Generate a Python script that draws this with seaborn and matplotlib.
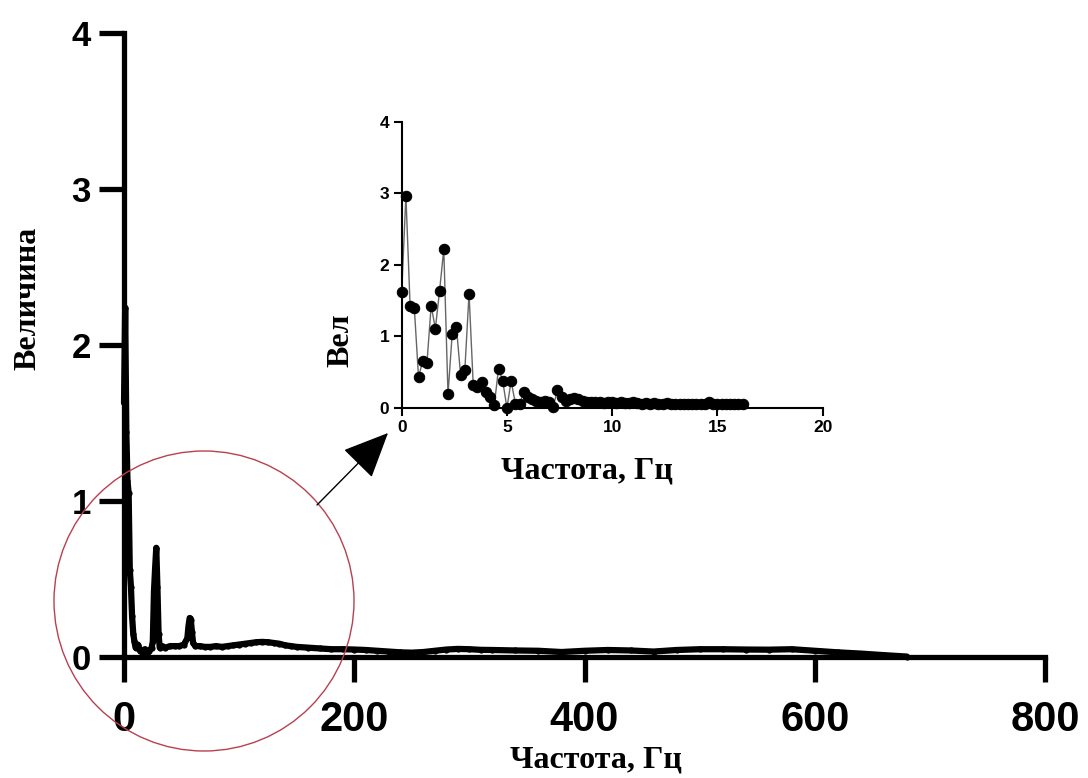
import numpy as np
import pandas as pd
import seaborn as sns
import matplotlib.pyplot as plt
from matplotlib.patches import Ellipse, FancyArrowPatch, ArrowStyle

# main spectrum (Hz, magnitude)
main_freq = [0, 1, 2, 3, 4, 5, 6, 7, 8, 9, 10, 12, 14, 16, 18, 20, 22, 24, 25, 26,
             27, 28, 29, 30, 31, 33, 36, 40, 44, 48, 52, 55, 56, 57, 58, 59, 60, 62,
             66, 70, 75, 80, 85, 90, 95, 100, 105, 110, 115, 120, 125, 130, 135, 140,
             145, 150, 160, 170, 180, 190, 200, 210, 220, 230, 240, 250, 260, 270,
             280, 290, 300, 310, 320, 340, 360, 380, 400, 420, 440, 460, 480, 500,
             520, 540, 560, 580, 600, 620, 640, 660, 680]
main_mag = [1.63, 2.24, 1.44, 1.13, 1.05, 0.56, 0.45, 0.26, 0.15, 0.10, 0.06, 0.08,
            0.04, 0.03, 0.05, 0.02, 0.04, 0.06, 0.10, 0.42, 0.57, 0.70, 0.45, 0.15,
            0.06, 0.07, 0.06, 0.07, 0.07, 0.07, 0.08, 0.12, 0.20, 0.25, 0.24, 0.16,
            0.09, 0.07, 0.07, 0.065, 0.065, 0.07, 0.065, 0.07, 0.075, 0.08, 0.085,
            0.09, 0.095, 0.097, 0.095, 0.09, 0.085, 0.075, 0.07, 0.065, 0.06, 0.055,
            0.05, 0.05, 0.048, 0.045, 0.04, 0.035, 0.03, 0.028, 0.032, 0.04, 0.048,
            0.052, 0.05, 0.046, 0.045, 0.042, 0.04, 0.032, 0.04, 0.045, 0.042, 0.035,
            0.045, 0.05, 0.05, 0.048, 0.047, 0.05, 0.04, 0.03, 0.022, 0.012, 0.003]

# zoomed low-frequency part (inset)
inset_freq = [0.0, 0.2, 0.4, 0.6, 0.8, 1.0, 1.2, 1.4, 1.6, 1.8, 2.0, 2.2, 2.4, 2.6,
              2.8, 3.0, 3.2, 3.4, 3.6, 3.8, 4.0, 4.2, 4.4, 4.6, 4.8, 5.0, 5.2, 5.4,
              5.6, 5.8, 6.0, 6.2, 6.4, 6.6, 6.8, 7.0, 7.2, 7.4, 7.6, 7.8, 8.0, 8.2,
              8.4, 8.6, 8.8, 9.0, 9.2, 9.4, 9.6, 9.8, 10.0, 10.2, 10.4, 10.6, 10.8,
              11.0, 11.2, 11.4, 11.6, 11.8, 12.0, 12.2, 12.4, 12.6, 12.8, 13.0, 13.2,
              13.4, 13.6, 13.8, 14.0, 14.2, 14.4, 14.6, 14.8, 15.0, 15.2, 15.4, 15.6,
              15.8, 16.0, 16.2]
inset_mag = [1.62, 2.97, 1.43, 1.40, 0.43, 0.66, 0.63, 1.43, 1.11, 1.64, 2.22, 0.19,
             1.04, 1.13, 0.46, 0.53, 1.60, 0.32, 0.29, 0.36, 0.22, 0.15, 0.04, 0.55,
             0.38, 0.00, 0.38, 0.06, 0.06, 0.22, 0.16, 0.12, 0.10, 0.08, 0.10, 0.09,
             0.02, 0.25, 0.15, 0.10, 0.12, 0.14, 0.12, 0.10, 0.08, 0.09, 0.08, 0.09,
             0.07, 0.08, 0.08, 0.07, 0.08, 0.07, 0.07, 0.08, 0.07, 0.06, 0.07, 0.06,
             0.07, 0.06, 0.06, 0.07, 0.06, 0.05, 0.06, 0.06, 0.05, 0.06, 0.05, 0.06,
             0.05, 0.09, 0.06, 0.05, 0.06, 0.05, 0.05, 0.06, 0.05, 0.05]

sns.set_style("ticks", {'axes.edgecolor': 'black', 'xtick.color': 'black',
                        'ytick.color': 'black', 'text.color': 'black',
                        'axes.labelcolor': 'black'})
plt.rcParams['font.family'] = ['Liberation Sans', 'DejaVu Sans']
serif = ['Liberation Serif', 'DejaVu Serif']

fig = plt.figure(figsize=(10.88, 7.78), dpi=100)

# ---- main chart
ax = fig.add_axes([0.1140, 0.1555, 0.8465, 0.8021])
sns.lineplot(x=main_freq, y=main_mag, ax=ax, color='black', linewidth=4.5,
             marker='o', markersize=4.5, markeredgewidth=0, estimator=None,
             sort=False, clip_on=False)
ax.set_xlim(0, 800)
ax.set_ylim(0, 4)
ax.set_xticks([0, 200, 400, 600, 800])
ax.set_yticks([0, 1, 2, 3, 4])
sns.despine(ax=ax)
for s in ['left', 'bottom']:
    ax.spines[s].set_linewidth(3.8)
ax.tick_params(axis='both', length=18, width=3.8, color='black', labelcolor='black')
ax.tick_params(axis='y', labelsize=25, pad=6)
ax.tick_params(axis='x', labelsize=30, pad=13)
for lab in ax.get_xticklabels() + ax.get_yticklabels():
    lab.set_fontweight('bold')
ax.set_xlabel('Частота, Гц', family=serif, fontsize=23, fontweight='bold')
ax.set_ylabel('Величина', family=serif, fontsize=23, fontweight='bold')
ax.xaxis.set_label_coords(0.5125, -0.141)
ax.yaxis.set_label_coords(-0.089, 0.575)

# ---- inset
axi = fig.add_axes([0.3692, 0.4756, 0.3869, 0.3676])
sns.lineplot(x=inset_freq, y=inset_mag, ax=axi, color='#666666', linewidth=1,
             marker='o', markersize=7.5, markerfacecolor='black',
             markeredgecolor='black', estimator=None, sort=False, clip_on=False)
axi.set_xlim(0, 20)
axi.set_ylim(0, 4)
axi.set_xticks([0, 5, 10, 15, 20])
axi.set_yticks([0, 1, 2, 3, 4])
sns.despine(ax=axi)
for s in ['left', 'bottom']:
    axi.spines[s].set_linewidth(1.5)
axi.tick_params(axis='both', length=6, width=1.5, labelsize=12.5, pad=3,
                color='black', labelcolor='black')
for lab in axi.get_xticklabels() + axi.get_yticklabels():
    lab.set_fontweight('bold')
axi.set_xlabel('Частота, Гц', family=serif, fontsize=23, fontweight='bold')
axi.set_ylabel('Вел', family=serif, fontsize=23, fontweight='bold')
axi.xaxis.set_label_coords(0.44, -0.168)
axi.yaxis.set_label_coords(-0.11, 0.238)

# ---- red circle and arrow
circ = Ellipse((204 / 1088, 1 - 601 / 778), 300 / 1088, 300 / 778,
               transform=fig.transFigure, fill=False, edgecolor='#b8404f',
               linewidth=1)
fig.add_artist(circ)
arrow = FancyArrowPatch((317 / 1088, 1 - 505 / 778), (388 / 1088, 1 - 433 / 778),
                        transform=fig.transFigure,
                        arrowstyle=ArrowStyle('-|>', head_length=1.45, head_width=0.65),
                        mutation_scale=20, color='black', linewidth=1,
                        shrinkA=0, shrinkB=0)
fig.add_artist(arrow)

fig.savefig('out.png', dpi=100)
